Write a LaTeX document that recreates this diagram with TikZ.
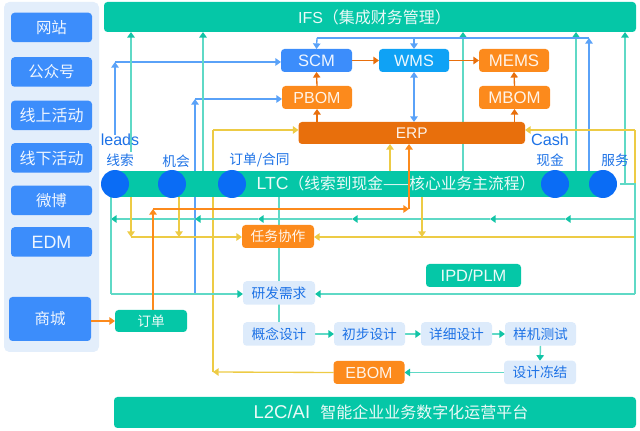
\documentclass[tikz,border=0pt]{standalone}
\usepackage{fontspec}
\setmainfont{Liberation Sans}
\newfontfamily\cjk{Noto Sans CJK SC}
\usetikzlibrary{arrows.meta,backgrounds,calc}
\definecolor{tealc}{HTML}{05C7A7}
\definecolor{teall}{HTML}{5FD9C6}
\definecolor{teald}{HTML}{12C4A6}
\definecolor{bluec}{HTML}{3C8DFB}
\definecolor{bluel}{HTML}{5AA2F8}
\definecolor{skyc}{HTML}{0FA2F5}
\definecolor{dotc}{HTML}{0A6CF5}
\definecolor{panel}{HTML}{E3EEFB}
\definecolor{softb}{HTML}{DDEBFB}
\definecolor{softt}{HTML}{1D72E6}
\definecolor{orangec}{HTML}{FC8A1C}
\definecolor{oranged}{HTML}{E86F0C}
\definecolor{yellowl}{HTML}{EDCB45}
\tikzset{
  x=0.75pt,y=-0.75pt,
  box/.style n args={4}{draw=none,rounded corners=2.6pt,inner sep=0pt,outer sep=0pt,minimum width=#1*0.75pt,minimum height=#2*0.75pt,fill=#3,text=#4,font=\fontsize{12pt}{13pt}\selectfont},
  srcbox/.style={box={81}{29.5}{bluec}{white!92!bluec},font=\cjk\fontsize{11.6pt}{13pt}\selectfont},
  softbox/.style={box={72}{23.5}{softb}{softt},font=\cjk\fontsize{10.3pt}{12pt}\selectfont},
  lab/.style={text=softt,inner sep=0pt,font=\cjk\fontsize{10.3pt}{12pt}\selectfont},
  latinlab/.style={text=softt,inner sep=0pt,font=\fontsize{12pt}{13pt}\selectfont},
  dot/.style={circle,fill=dotc,minimum size=21pt,inner sep=0pt,outer sep=0pt},
  ln/.style={line width=1pt},
  tealln/.style={line width=1.1pt,draw=teall,-{Triangle[length=4.2pt,width=5.6pt,color=teald]}},
  tealplain/.style={line width=1.1pt,draw=teall},
  blueln/.style={ln,draw=bluel,-{Triangle[length=4.2pt,width=5.6pt,color=bluel]}},
  blueplain/.style={ln,draw=bluel},
  blueboth/.style={ln,draw=bluel,{Triangle[length=4.2pt,width=5.6pt,color=bluel]}-{Triangle[length=4.2pt,width=5.6pt,color=bluel]}},
  orln/.style={ln,draw=oranged,-{Triangle[length=4.2pt,width=5.6pt,color=oranged]}},
  orlight/.style={ln,draw=orangec,-{Triangle[length=4.2pt,width=5.6pt,color=orangec]}},
  yeln/.style={ln,draw=yellowl,-{Triangle[length=4.2pt,width=5.6pt,color=yellowl]}},
  yeplain/.style={ln,draw=yellowl},
}
\begin{document}
\begin{tikzpicture}
\useasboundingbox (0,0) rectangle (640,431);
% panel
\node[box={95}{350}{panel}{black},rounded corners=4pt] (panelbox) at (51.5,177) {};
\node[srcbox] (s1) at (51.5,27.5) {网站};
\node[srcbox] (s2) at (51.5,72) {公众号};
\node[srcbox,font=\cjk\fontsize{12pt}{13pt}\selectfont] (s3) at (51.5,115.5) {线上活动};
\node[srcbox,font=\cjk\fontsize{12pt}{13pt}\selectfont] (s4) at (51.5,158) {线下活动};
\node[srcbox] (s5) at (51.5,200.5) {微博};
\node[srcbox,font=\fontsize{13.4pt}{14pt}\selectfont] (s6) at (51.5,242) {EDM};
\node[box={82}{44}{bluec}{white!92!bluec},font=\cjk\fontsize{11.6pt}{13pt}\selectfont] (mall) at (50,319) {商城};
% bars
\node[box={532}{30}{tealc}{white!92!tealc},font=\fontsize{12pt}{14pt}\selectfont] (ifs) at (370,17) {\hspace*{6.8pt}IFS{\cjk\fontsize{12pt}{14pt}\selectfont （集成财务管理）}};
\node[box={522}{31}{tealc}{white!92!tealc},font=\fontsize{13.9pt}{14pt}\selectfont] (plat) at (375,412.5) {\hspace*{24pt}L2C/AI\ \ {\cjk\fontsize{12pt}{14pt}\selectfont 智能企业业务数字化运营平台}};
\node[box={490}{26}{tealc}{white!92!tealc},rounded corners=0pt] (ltc) at (359,184) {};
\node[text=white!92!tealc,inner sep=0pt,font=\fontsize{13.2pt}{14pt}\selectfont] (ltclabel) at (396,184) {LTC{\cjk\fontsize{11.8pt}{14pt}\selectfont （线索到现金——核心业务主流程）}};
\node[dot] (d1) at (115,184) {};
\node[dot] (d2) at (172,184) {};
\node[dot] (d3) at (232,184) {};
\node[dot] (d4) at (555,184) {};
\node[dot] (d5) at (603,184) {};
\node[lab] (l1) at (120,160) {线索};
\node[lab] (l2) at (176,161) {机会};
\node[lab] (l3) at (259.5,160) {订单/合同};
\node[lab] (l4) at (550,160) {现金};
\node[lab] (l5) at (615,160) {服务};
\node[latinlab] (leads) at (120,140) {leads};
\node[latinlab,font=\fontsize{12.2pt}{13pt}\selectfont] (cash) at (550,139.5) {Cash};
% systems
\node[box={71}{23}{bluec}{white!92!bluec},font=\fontsize{12.4pt}{13pt}\selectfont] (scm) at (316.5,60.5) {SCM};
\node[box={70}{23}{skyc}{white!92!skyc},font=\fontsize{12.2pt}{13pt}\selectfont] (wms) at (414,60.5) {WMS};
\node[box={70}{23}{orangec}{white!90!orangec},font=\fontsize{12.6pt}{13pt}\selectfont] (mems) at (514,60.5) {MEMS};
\node[box={70}{23}{orangec}{white!90!orangec}] (pbom) at (317,97.5) {PBOM};
\node[box={71}{23}{orangec}{white!90!orangec},font=\fontsize{12.6pt}{13pt}\selectfont] (mbom) at (514.5,97.5) {MBOM};
\node[box={226.5}{22}{oranged}{white!90!oranged},font=\fontsize{11.6pt}{13pt}\selectfont] (erp) at (411.75,133) {ERP};
\node[box={72}{23}{orangec}{white!92!orangec},font=\cjk\fontsize{10.3pt}{12pt}\selectfont] (task) at (278,236.5) {任务协作};
\node[softbox] (req) at (279,293) {研发需求};
\node[box={72}{22}{tealc}{white!92!tealc},font=\cjk\fontsize{10.3pt}{12pt}\selectfont] (order) at (151,321) {订单};
\node[box={95}{23}{tealc}{white!92!tealc},font=\fontsize{12.3pt}{13pt}\selectfont] (ipd) at (473.5,275.5) {IPD/PLM};
\node[softbox] (c1) at (279,334) {概念设计};
\node[softbox,minimum width=53.25pt] (c2) at (369.5,334) {初步设计};
\node[softbox,minimum width=53.25pt] (c3) at (456.5,334) {详细设计};
\node[softbox,minimum width=53.25pt] (c4) at (540.5,334) {样机测试};
\node[softbox] (c5) at (540,372.5) {设计冻结};
\node[box={71}{23}{orangec}{white!90!orangec}] (ebom) at (369,372.5) {EBOM};
% junction coordinates
\coordinate (jA) at (115,62);
\coordinate (jAs) at (115,135);
\coordinate (jB) at (195,99);
\coordinate (jBs) at (195,294);
\coordinate (t1s) at (131,152);
\coordinate (t1e) at (131,32);
\coordinate (t2e) at (203,32);
\coordinate (t3e) at (463,32);
\coordinate (t4e) at (576,32);
\coordinate (t5s) at (620,184);
\coordinate (t5c) at (625,184);
\coordinate (t5e) at (625,32);
\coordinate (bR) at (589,38);
\coordinate (bS) at (589,171);
\coordinate (bL) at (317,38);
\coordinate (bM) at (414,38);
\coordinate (yT) at (213,130);
\coordinate (yB) at (213,372);
\coordinate (yR) at (635,130);
\coordinate (yRb) at (635,184);
\coordinate (tR) at (635,184);
\coordinate (tRb) at (635,294);
\coordinate (tRm) at (635,219);
\coordinate (tL) at (111,294);
\coordinate (tLt) at (111,197);
\coordinate (a1) at (565,219);
\coordinate (a2) at (490,219);
\coordinate (a3) at (352,219);
\coordinate (a4) at (258,219);
\coordinate (a5) at (195,219);
\coordinate (a6) at (111,219);
\coordinate (y1) at (131,237);
\coordinate (y1s) at (131,197);
\coordinate (y2) at (179,237);
\coordinate (y2s) at (179,197);
\coordinate (y3) at (422,237);
\coordinate (y3s) at (422,197);
\coordinate (y4) at (390,171);
\coordinate (yE) at (635,237);
\coordinate (oT) at (153,209);
\coordinate (oR) at (409,209);
\begin{scope}[on background layer]
  \draw[yeln] (yE) -- (task.east|-yE);
  \draw[blueln] (jAs) -- (jA);
  \draw[blueln] (jA) -- (scm.west|-jA);
  \draw[blueln] (jBs) -- (jB);
  \draw[blueln] (jB) -- (pbom.west|-jB);
  \draw[tealln] (t1s) -- (t1e);
  \draw[tealln] (ltc.north-|t2e) -- (t2e);
  \draw[tealln] (ltc.north-|t3e) -- (t3e);
  \draw[tealln] (ltc.north-|t4e) -- (t4e);
  \draw[tealln] (t5c) -- (t5e);
  \draw[blueln] (bS) -- (bR);
  \draw[blueplain] (bR) -- (bL);
  \draw[blueln] (bL) -- (scm.north);
  \draw[blueln] (bM) -- (wms.north);
  \draw[blueboth] (wms.south) -- (erp.north-|wms.south);
  \draw[orln] (scm.east) -- (wms.west);
  \draw[orln] (wms.east) -- (mems.west);
  \draw[orln] (pbom.north) -- (scm.south);
  \draw[orln] (erp.north-|pbom.south) -- (pbom.south);
  \draw[orln] (erp.north-|mbom.south) -- (mbom.south);
  \draw[orln] (mbom.north) -- (mems.south);
  \draw[yeplain] (yB) -- (yT);
  \draw[yeln] (yT) -- (erp.west|-yT);
  \draw[yeln] (ebom.west) -- (yB);
  \draw[yeln] (y4) -- (erp.south-|y4);
  \draw[yeplain] (yRb) -- (yR);
  \draw[yeln] (yR) -- (erp.east|-yR);
  \draw[tealplain] (t5s) -- (tR) -- (tRb);
  \draw[tealln] (tRb) -- (req.east|-tRb);
  \draw[tealln] (tRm) -- (a1);
  \draw[tealln] (a1) -- (a2);
  \draw[tealln] (a2) -- (a3);
  \draw[tealln] (a3) -- (a4);
  \draw[tealln] (a4) -- (a5);
  \draw[tealln] (a5) -- (a6);
  \draw[tealplain] (tLt) -- (tL);
  \draw[tealln] (tL) -- (req.west|-tL);
  \draw[tealplain] (ltc.south-|c1.north) -- (c1.north);
  \draw[yeln] (y1s) -- (y1);
  \draw[yeln] (y2s) -- (y2);
  \draw[yeln] (y1) -- (task.west|-y1);
  \draw[yeln] (y3s) -- (y3);
  \draw[orlight] (order.north-|oT) -- (oT);
  \draw[orlight] (oT) -- (oR);
  \draw[tealln] (c1.east) -- (c2.west);
  \draw[tealln] (c2.east) -- (c3.west);
  \draw[tealln] (c3.east) -- (c4.west);
  \draw[tealln] (c4.south) -- (c5.north);
  \draw[tealln] (c5.west) -- (ebom.east);
\end{scope}
\draw[orlight] (mall.east|-order) -- (order.west);
\draw[orlight] (oR) -- (erp.south-|oR);
\end{tikzpicture}
\end{document}
